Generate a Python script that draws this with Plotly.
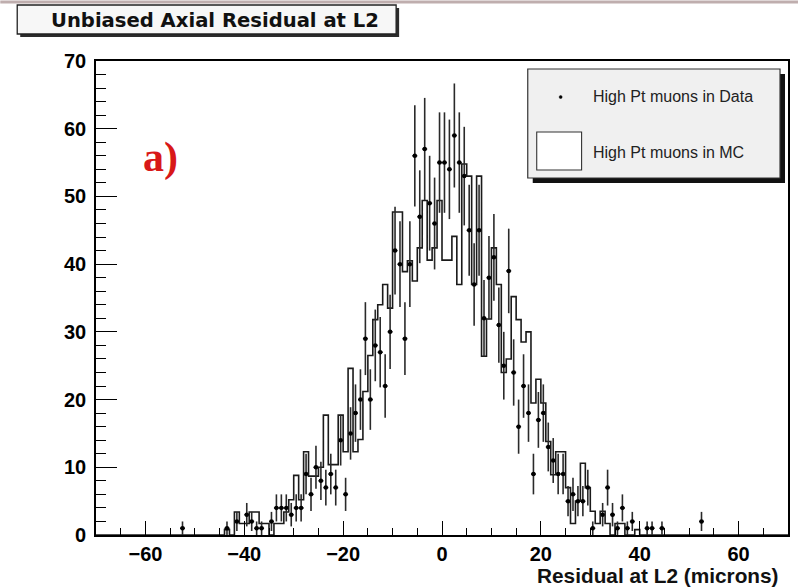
import math
import plotly.graph_objects as go

# ---------------- data ----------------
x_min, x_max = -70, 70          # histogram range (microns), 1 micron bins
bin_width = 1

# Data histogram: lower edge of each non-empty bin and its count
data_bin_lo = [-53, -44, -42, -40, -39, -38, -37,
               -35, -34, -33, -32, -31, -30, -29, -28, -27, -26, -25, -24, -23, -22,
               -21, -20, -19, -18, -17, -16, -15, -14, -13, -12, -11, -10, -9, -8,
               -7, -6, -5, -4, -3, -2, -1, 0, 1, 2, 3, 4, 5, 6, 7, 8, 9, 10, 11, 12,
               13, 14, 15, 16, 17, 18, 19, 20, 21, 22, 23, 24, 25, 26, 27, 28, 29, 30,
               32, 33, 34, 35, 36, 37, 38,
               41, 42, 44, 52]
data_counts = [1, 1, 2, 3, 2, 1, 1,
               2, 4, 4, 4, 3, 4, 4, 9, 6, 10, 8, 7, 9, 7,
               14, 6, 15, 18, 20, 29, 20, 28, 27, 22, 30, 42, 40, 29,
               40, 56, 47, 57, 49, 46, 55, 55, 54, 59, 55, 53, 45, 37, 45, 32, 38, 41, 31, 25,
               39, 24, 16, 22, 18, 9, 17, 18, 13, 11, 9, 9, 5, 6, 5, 5, 7, 1,
               3, 7, 3, 1, 4, 1, 2,
               1, 1, 1, 2]

# MC histogram (normalised), bins starting at mc_first_bin, 1 micron each
mc_first_bin = -45
mc_values = [0, 0.8, 0, 3.4, 1.7, 1.7, 3.4, 3.4, 1.7, 1.7,           # -45 .. -36
             0, 1.7, 1.7, 3.4, 5.2, 8.8, 5.2, 12.3, 8.7, 8.7,          # -35 .. -26
             10.0, 17.7, 10.4, 10.4, 17.7, 12.3, 24.6, 12.3, 14.1, 21.2,  # -25 .. -16
             26.5, 31.8, 34.0, 37.0, 33.5, 47.7, 47.7, 38.9, 40.5, 37.5,  # -15 .. -6
             42.4, 49.4, 40.6, 42.4, 49.4, 40.6, 40.6, 44.1, 37.0, 54.8,  # -5 .. 4
             53.0, 37.0, 53.0, 26.4, 31.9, 42.4, 37.0, 24.0, 26.0, 35.2,  # 5 .. 14
             31.8, 28.5, 30.0, 19.5, 23.0, 19.5, 13.8, 8.9, 12.3, 12.3,   # 15 .. 24
             7.0, 1.7, 5.0, 10.6, 7.0, 3.5, 1.7, 3.5, 1.7, 0,             # 25 .. 34
             1.7, 1.7, 0, 0, 0.8, 0, 0, 0, 0, 0]                          # 35 .. 44

assert len(data_bin_lo) == len(data_counts)

title_text = "Unbiased Axial Residual at L2"
xaxis_title = "Residual at L2 (microns)"
legend_data = "High Pt muons in Data"
legend_mc = "High Pt muons in MC"
panel_label = "a)"

# ---------------- build histogram arrays ----------------
edges = list(range(x_min, x_max + bin_width, bin_width))
mc_full = [0.0] * (len(edges) - 1)
for i, v in enumerate(mc_values):
    mc_full[mc_first_bin - x_min + i] = v
step_x = edges
step_y = mc_full + [mc_full[-1]]

data_x = [b + bin_width / 2 for b in data_bin_lo]
data_err = [math.sqrt(c) for c in data_counts]

# ---------------- figure ----------------
W, H = 800, 587
L, R, T, B = 96, 10, 61, 52
PW, PH = W - L - R, H - T - B


def px(xp):  # pixel -> paper x
    return (xp - L) / PW


def py(yp):  # pixel -> paper y
    return (H - B - yp) / PH


fig = go.Figure()

fig.add_trace(go.Scatter(
    x=step_x, y=step_y, mode="lines", line_shape="hv",
    line=dict(color="#1a1a1a", width=1.6), hoverinfo="skip", showlegend=False))

fig.add_trace(go.Scatter(
    x=data_x, y=data_counts, mode="markers",
    marker=dict(color="black", size=4.5),
    error_y=dict(type="data", array=data_err, color="#2a2a2a", thickness=1.6, width=0),
    error_x=dict(type="constant", value=bin_width / 2, color="#2a2a2a", thickness=1.6, width=0),
    showlegend=False))

axis_font = dict(family="Liberation Sans, Arial, sans-serif", size=20, color="black", weight="bold")

fig.update_xaxes(range=[x_min, x_max], showgrid=False, zeroline=False,
                 showline=True, mirror=True, linecolor="black", linewidth=1.6,
                 ticks="inside", tickvals=[-60, -40, -20, 0, 20, 40, 60], ticklen=14, tickwidth=1.3,
                 tickcolor="black", tickfont=axis_font,
                 minor=dict(dtick=5, tick0=0, ticks="inside", ticklen=7, tickwidth=1.1, tickcolor="black"))
fig.update_yaxes(range=[0, 70], showgrid=False, zeroline=False,
                 showline=True, mirror=True, linecolor="black", linewidth=1.6,
                 ticks="inside", dtick=10, ticklen=21, tickwidth=1.3, tickcolor="black",
                 tickfont=axis_font, ticklabelstandoff=4,
                 minor=dict(dtick=2, tick0=0, ticks="inside", ticklen=10, tickwidth=1.1, tickcolor="black"))

shapes = []
# thin line at very top of the canvas
shapes.append(dict(type="line", xref="paper", yref="paper", x0=px(0), x1=px(800), y0=py(2), y1=py(2),
                   line=dict(color="#bfaeae", width=3)))
# title box with shadow
shapes.append(dict(type="rect", xref="paper", yref="paper", x0=px(20), x1=px(400), y0=py(37), y1=py(8),
                   fillcolor="#2b2b2b", line=dict(width=0)))
shapes.append(dict(type="rect", xref="paper", yref="paper", x0=px(17), x1=px(397), y0=py(34), y1=py(5),
                   fillcolor="#f7f7f7", line=dict(color="#222", width=1.3)))
# legend box with shadow
shapes.append(dict(type="rect", xref="paper", yref="paper", x0=px(534), x1=px(787), y0=py(183), y1=py(74),
                   fillcolor="#111", line=dict(width=0)))
shapes.append(dict(type="rect", xref="paper", yref="paper", x0=px(529), x1=px(782), y0=py(178), y1=py(69),
                   fillcolor="#f0f0f0", line=dict(color="#333", width=1.2)))
# legend entry box for MC
shapes.append(dict(type="rect", xref="paper", yref="paper", x0=px(538), x1=px(583), y0=py(170), y1=py(132),
                   fillcolor="white", line=dict(color="#333", width=1.1)))
# legend dot for data
shapes.append(dict(type="circle", xref="paper", yref="paper", x0=px(560.5), x1=px(563.5), y0=py(98.5), y1=py(95.5),
                   fillcolor="black", line=dict(color="black", width=0.5)))

annotations = [
    dict(text=title_text, xref="paper", yref="paper", x=px(215), y=py(21), xanchor="center", yanchor="middle",
         showarrow=False, font=dict(family="DejaVu Sans, sans-serif", size=19.6, color="#111", weight="bold")),
    dict(text=legend_data, xref="paper", yref="paper", x=px(592), y=py(97), xanchor="left", yanchor="middle",
         showarrow=False, font=dict(family="Liberation Sans, Arial, sans-serif", size=16, color="#222")),
    dict(text=legend_mc, xref="paper", yref="paper", x=px(592), y=py(152), xanchor="left", yanchor="middle",
         showarrow=False, font=dict(family="Liberation Sans, Arial, sans-serif", size=16, color="#222")),
    dict(text=xaxis_title, xref="paper", yref="paper", x=px(783), y=py(575.5), xanchor="right", yanchor="middle",
         showarrow=False, font=dict(family="Liberation Sans, Arial, sans-serif", size=20.8, color="#111", weight="bold")),
    dict(text=panel_label, xref="paper", yref="paper", x=px(141), y=py(157), xanchor="left", yanchor="middle",
         showarrow=False, font=dict(family="Liberation Serif, Times New Roman, serif", size=42,
                                    color="#d81818", weight="bold")),
]

fig.update_layout(width=W, height=H, margin=dict(l=L, r=R, t=T, b=B),
                  paper_bgcolor="white", plot_bgcolor="white",
                  shapes=shapes, annotations=annotations, showlegend=False)

fig.write_html("out.html")
